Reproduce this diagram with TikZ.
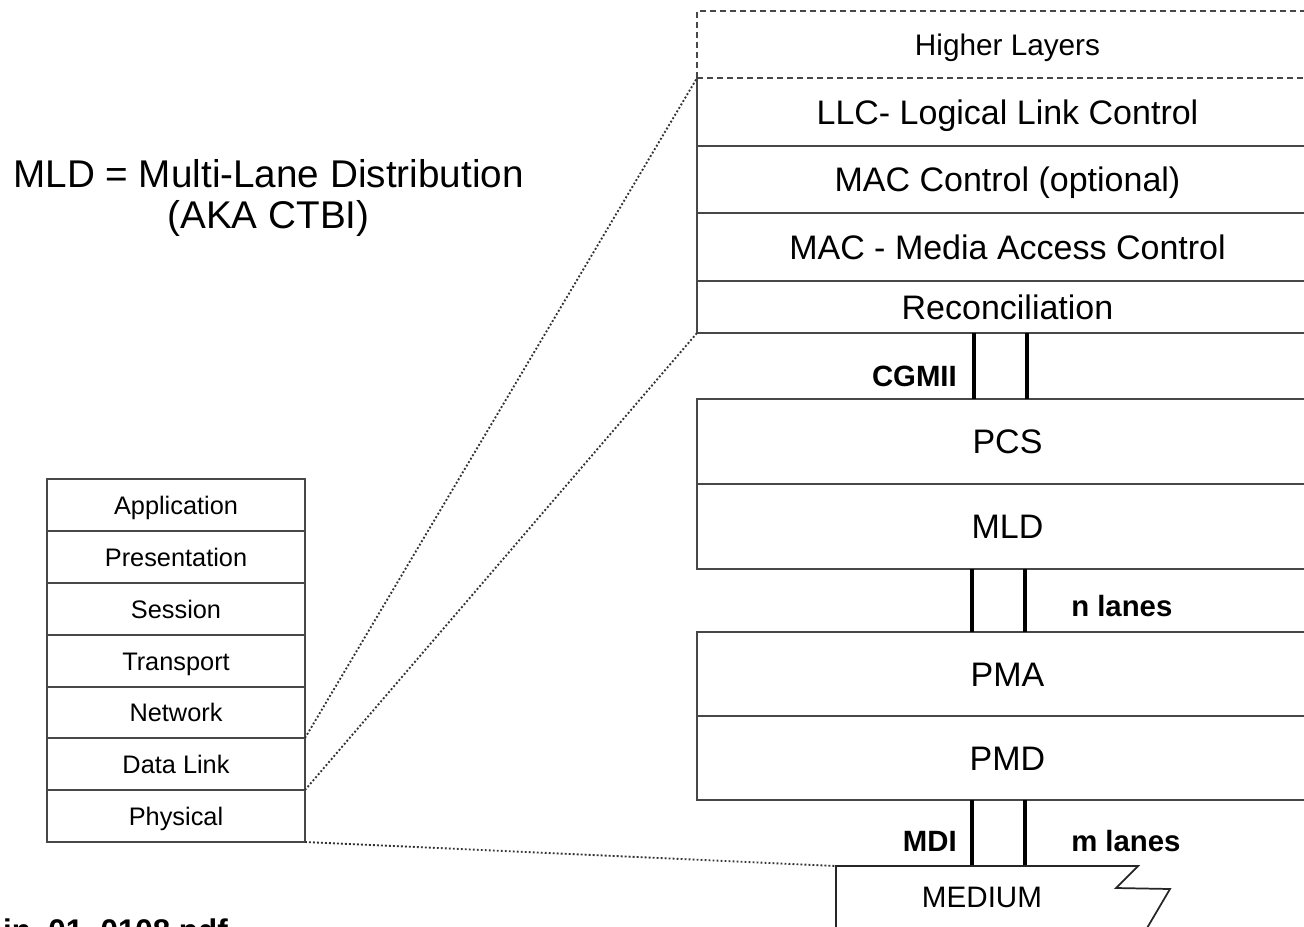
\documentclass[tikz,border=0pt]{standalone}
\usepackage{fontspec}
\setmainfont{Liberation Sans}
\usetikzlibrary{calc}
\begin{document}
\begin{tikzpicture}[x=0.75pt,y=-0.75pt,
  thinline/.style={draw=black!72, line width=1.1pt},
  layer/.style={thinline, rectangle, inner sep=0pt, outer sep=0pt, minimum width=621*0.75pt, text height=18.3pt, text depth=0pt, font=\fontsize{25.5}{30}\selectfont},
  osi/.style={thinline, rectangle, inner sep=0pt, outer sep=0pt, minimum width=258*0.75pt, minimum height=52*0.75pt, text height=13.6pt, text depth=0pt, font=\fontsize{19}{22}\selectfont},
  lh/.style={minimum height=#1*0.75pt},
  bus/.style={draw=black, line width=3pt},
  lbl/.style={font=\fontsize{22}{26}\selectfont\bfseries, inner sep=0pt},
  dotline/.style={draw=black!80, line width=1.4pt, dash pattern=on 1.4pt off 1.6pt},
  dashbox/.style={draw=black!72, line width=1.1pt, dash pattern=on 4.5pt off 3pt}
]
\useasboundingbox (0,0) rectangle (1304,926);
\fill[white] (0,0) rectangle (1304,926);

% right stack
\node[layer, draw=none, lh=68] (llc) at (1007.5,112) {LLC- Logical Link Control};
\draw[thinline] (llc.north west) -- (llc.south west);
\node[layer, lh=67] (macc) at (1007.5,179.5) {MAC Control (optional)};
\node[layer, lh=68] (mac) at (1007.5,247) {MAC - Media Access Control};
\node[layer, lh=52] (rec) at (1007.5,307) {Reconciliation};
\node[layer, dashbox, lh=67, text height=16pt, font=\fontsize{22.3}{26}\selectfont] (hl) at (1007.5,44.5) {Higher Layers};

\node[layer, lh=85] (pcs) at (1007.5,441.5) {PCS};
\node[layer, lh=85] (mld) at (1007.5,526.5) {MLD};
\node[layer, lh=84] (pma) at (1007.5,674) {PMA};
\node[layer, lh=84] (pmd) at (1007.5,758) {PMD};

% buses
\draw[bus] ($(rec.south)+(-33.5,0)$) -- ($(pcs.north)+(-33.5,0)$);
\draw[bus] ($(rec.south)+(19,0)$) -- ($(pcs.north)+(19,0)$);
\draw[bus] ($(mld.south)+(-35.5,0)$) -- ($(pma.north)+(-35.5,0)$);
\draw[bus] ($(mld.south)+(17.5,0)$) -- ($(pma.north)+(17.5,0)$);
\coordinate (medtl) at (836,866);
\draw[bus] ($(pmd.south)+(-35.5,0)$) -- ($(pmd.south)+(-35.5,66)$);
\draw[bus] ($(pmd.south)+(17.5,0)$) -- ($(pmd.south)+(17.5,66)$);

\node[lbl, anchor=east] (cgmii) at (957,376) {CGMII};
\node[lbl, anchor=west] (nl) at (1071,606) {n lanes};
\node[lbl, anchor=east] (mdi) at (957,841) {MDI};
\node[lbl, anchor=west] (ml) at (1071,841) {m lanes};

% medium
\draw[thinline, draw=black!85, line width=1.3pt, fill=white] (1140,940) -- (1170,889) -- (1116,888) -- (1138,866) -- (medtl) -- (836,940);
\node[font=\fontsize{22.2}{26}\selectfont, inner sep=0pt] (medium) at (982,897) {MEDIUM};

% OSI stack
\node[osi] (app) at (176,505) {Application};
\node[osi] (pres) at (176,557) {Presentation};
\node[osi] (ses) at (176,609) {Session};
\node[osi] (tra) at (176,661) {Transport};
\node[osi] (net) at (176,712.5) {Network};
\node[osi] (dl) at (176,764) {Data Link};
\node[osi] (phy) at (176,816) {Physical};

% dotted connectors
\draw[dotline] (dl.north east) -- (llc.north west);
\draw[dotline] (phy.north east) -- (rec.south west);
\draw[dotline] (phy.south east) -- (medtl);

% title
\node[font=\fontsize{29}{30.5}\selectfont, align=center, inner sep=0pt] (title) at (268.5,198) {MLD = Multi-Lane Distribution\\(AKA CTBI)};

% cut-off file name
\node[font=\fontsize{23.5}{28}\selectfont\bfseries, anchor=base east, inner sep=0pt] (fname) at (228,941) {in\_01\_0108.pdf};
\end{tikzpicture}
\end{document}
